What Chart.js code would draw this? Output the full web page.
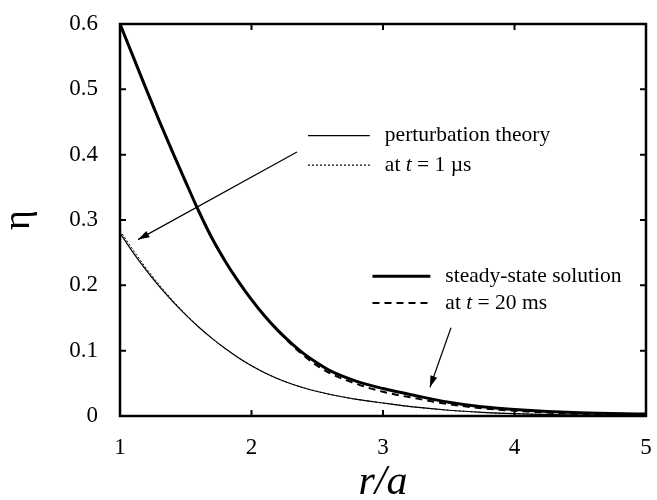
<!doctype html>
<html>
<head>
<meta charset="UTF-8"/>
<title>eta vs r/a</title>
<script src="https://cdn.jsdelivr.net/npm/chart.js@4"></script>
</head>
<body style="margin: 0; background: #fff;">
<div style="width: 657px; height: 500px;">
<canvas id="myChart"></canvas>
</div>
<script>
// r/a sample points
const rValues = [1.0, 1.1, 1.2, 1.3, 1.4, 1.5, 1.6, 1.7, 1.8, 1.9, 2.0, 2.1, 2.2, 2.3, 2.4, 2.5, 2.6, 2.8, 3.0, 3.25, 3.5, 3.75, 4.0, 4.5, 5.0];
const steadyState = [0.600, 0.550, 0.500, 0.451, 0.404, 0.358, 0.313, 0.272, 0.237, 0.206, 0.178, 0.153, 0.131, 0.112, 0.095, 0.081, 0.069, 0.053, 0.042, 0.031, 0.021, 0.014, 0.010, 0.005, 0.003];
const at20ms = [0.600, 0.550, 0.500, 0.451, 0.404, 0.358, 0.313, 0.272, 0.237, 0.206, 0.178, 0.153, 0.131, 0.110, 0.092, 0.077, 0.065, 0.049, 0.037, 0.027, 0.018, 0.012, 0.008, 0.003, 0.001];
const perturbation = [0.280, 0.250, 0.2228, 0.198, 0.1755, 0.1548, 0.1359, 0.1188, 0.1032, 0.0893, 0.077, 0.0663, 0.0571, 0.0494, 0.0429, 0.0375, 0.0329, 0.0255, 0.0199, 0.0135, 0.0088, 0.0056, 0.0035, 0.0013, 0.0005];
const at1us = [0.284, 0.254, 0.226, 0.2005, 0.177, 0.1555, 0.1362, 0.1188, 0.1032, 0.0893, 0.077, 0.0663, 0.0571, 0.0494, 0.0429, 0.0375, 0.0329, 0.0255, 0.0199, 0.0135, 0.0088, 0.0056, 0.0035, 0.0013, 0.0005];
const xTicks = [1, 2, 3, 4, 5];
const yTicks = [0, 0.1, 0.2, 0.3, 0.4, 0.5, 0.6];

const serif = '"Liberation Serif", "DejaVu Serif", serif';

function pts(ys) {
    return rValues.map((r, i) => ({x: r, y: ys[i]}));
}

// frame, inward ticks, x title, legends and arrows
const decorations = {
    id: 'decorations',
    afterDraw(chart) {
        const ctx = chart.ctx;
        const a = chart.chartArea;
        const xs = chart.scales.x, ys = chart.scales.y;
        const X = v => xs.getPixelForValue(v), Y = v => ys.getPixelForValue(v);
        ctx.save();
        ctx.strokeStyle = '#000';
        ctx.lineWidth = 2.5;
        ctx.strokeRect(a.left, a.top, a.right - a.left, a.bottom - a.top);
        ctx.lineWidth = 2;
        xTicks.slice(1, -1).forEach(v => {
            ctx.beginPath();
            ctx.moveTo(X(v), a.bottom); ctx.lineTo(X(v), a.bottom - 6);
            ctx.moveTo(X(v), a.top); ctx.lineTo(X(v), a.top + 6);
            ctx.stroke();
        });
        yTicks.slice(1, -1).forEach(v => {
            ctx.beginPath();
            ctx.moveTo(a.left, Y(v)); ctx.lineTo(a.left + 6, Y(v));
            ctx.moveTo(a.right, Y(v)); ctx.lineTo(a.right - 6, Y(v));
            ctx.stroke();
        });

        // x axis title
        ctx.fillStyle = '#000';
        ctx.font = 'italic 42px ' + serif;
        ctx.textAlign = 'center';
        ctx.textBaseline = 'alphabetic';
        ctx.fillText('r/a', (a.left + a.right) / 2, a.bottom + 78);
        ctx.textAlign = 'left';

        // legend entries
        function entry(x0, x1, yv, width, dash, parts) {
            ctx.beginPath();
            ctx.lineWidth = width;
            ctx.setLineDash(dash);
            ctx.moveTo(X(x0), Y(yv)); ctx.lineTo(X(x1), Y(yv));
            ctx.stroke();
            ctx.setLineDash([]);
            let px = X(x1) + 15;
            ctx.textBaseline = 'middle';
            parts.forEach(p => {
                ctx.font = (p[1] ? 'italic ' : '') + '21.5px ' + serif;
                ctx.fillText(p[0], px, Y(yv));
                px += ctx.measureText(p[0]).width;
            });
        }
        entry(2.43, 2.90, 0.429, 1.2, [], [['perturbation theory', false]]);
        entry(2.43, 2.90, 0.384, 1.2, [2, 2], [['at ', false], ['t', true], [' = 1 \u00b5s', false]]);
        entry(2.92, 3.36, 0.214, 3, [], [['steady-state solution', false]]);
        entry(2.92, 3.36, 0.173, 2, [7, 5], [['at ', false], ['t', true], [' = 20 ms', false]]);

        // arrows
        function arrow(r0, e0, r1, e1) {
            const x0 = X(r0), y0 = Y(e0), x1 = X(r1), y1 = Y(e1);
            const ang = Math.atan2(y1 - y0, x1 - x0);
            ctx.lineWidth = 1.2;
            ctx.beginPath();
            ctx.moveTo(x0, y0); ctx.lineTo(x1, y1);
            ctx.stroke();
            ctx.beginPath();
            ctx.moveTo(x1, y1);
            ctx.lineTo(x1 - 12 * Math.cos(ang - 0.3), y1 - 12 * Math.sin(ang - 0.3));
            ctx.lineTo(x1 - 12 * Math.cos(ang + 0.3), y1 - 12 * Math.sin(ang + 0.3));
            ctx.closePath();
            ctx.fill();
        }
        arrow(2.346, 0.404, 1.137, 0.270);
        arrow(3.517, 0.135, 3.357, 0.044);
        ctx.restore();
    }
};

const ctx = document.getElementById('myChart').getContext('2d');
const myChart = new Chart(ctx, {
    type: 'line',
    data: {
        datasets: [
            {label: 'perturbation theory', data: pts(perturbation), borderWidth: 1.2, borderColor: '#000'},
            {label: 'at t = 1 us', data: pts(at1us), borderWidth: 1, borderColor: '#000', borderDash: [2, 2]},
            {label: 'steady-state solution', data: pts(steadyState), borderWidth: 3, borderColor: '#000'},
            {label: 'at t = 20 ms', data: pts(at20ms), borderWidth: 2, borderColor: '#000', borderDash: [7, 5]}
        ]
    },
    options: {
        responsive: true,
        maintainAspectRatio: false,
        animation: false,
        events: [],
        elements: {point: {radius: 0}, line: {tension: 0.4, cubicInterpolationMode: 'monotone'}},
        layout: {padding: {top: 24, right: 11, left: 0, bottom: 0}},
        plugins: {legend: {display: false}, tooltip: {enabled: false}},
        scales: {
            x: {
                type: 'linear', min: 1, max: 5,
                afterFit: s => { s.height = 84; s.paddingLeft = 0; s.paddingRight = 0; },
                grid: {display: false, drawTicks: false},
                border: {display: false},
                ticks: {stepSize: 1, padding: 18, color: '#000', font: {family: serif, size: 23}},
                title: {display: false, text: 'r/a'}
            },
            y: {
                min: 0, max: 0.6,
                afterFit: s => { s.width = 120; s.paddingTop = 0; s.paddingBottom = 0; },
                grid: {display: false, drawTicks: false},
                border: {display: false},
                ticks: {stepSize: 0.1, padding: 22, color: '#000', font: {family: serif, size: 23},
                    callback: v => String(+v.toFixed(1))},
                title: {display: true, text: '\u03b7', color: '#000', padding: {top: 0, bottom: 0}, font: {family: serif, size: 38, lineHeight: 1}}
            }
        }
    },
    plugins: [decorations]
});
</script>
</body>
</html>
